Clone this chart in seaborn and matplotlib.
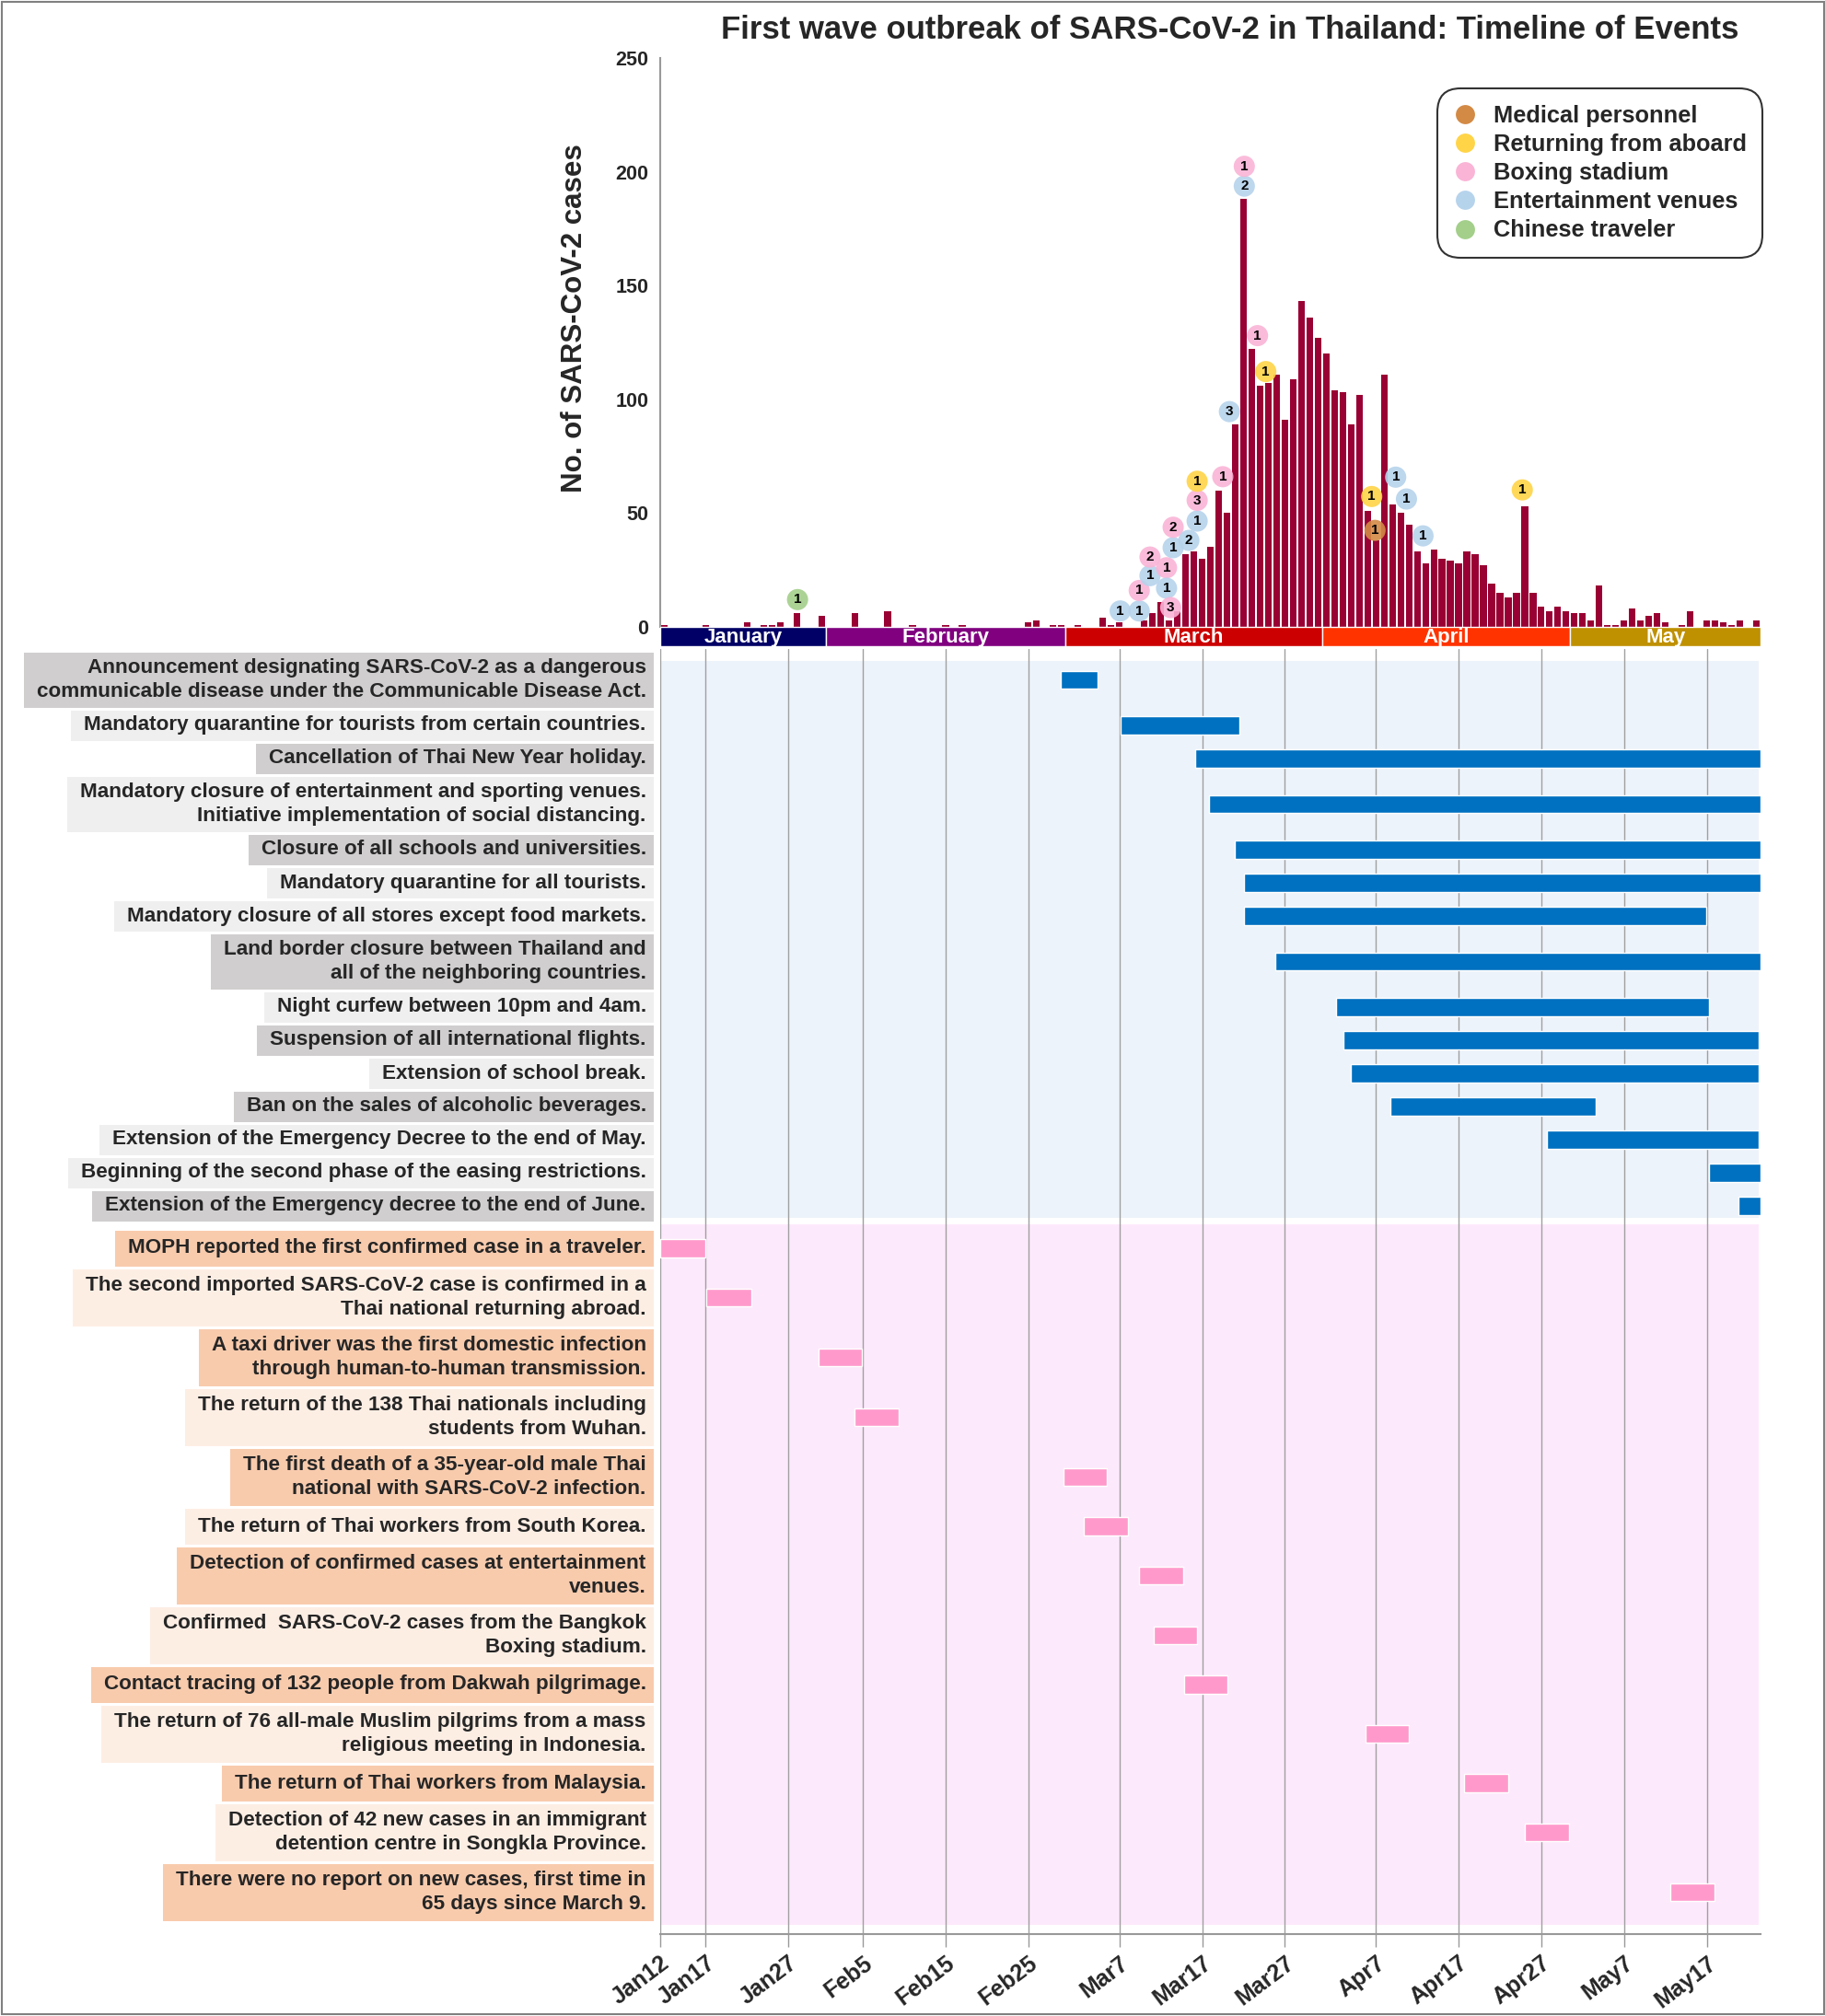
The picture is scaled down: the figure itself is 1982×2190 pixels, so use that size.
import numpy as np
import pandas as pd
import matplotlib
matplotlib.use('Agg')
import matplotlib.pyplot as plt
import matplotlib.transforms as mtransforms
from matplotlib.patches import Rectangle
from matplotlib.lines import Line2D
import seaborn as sns

sns.set_theme(style='white')
plt.rcParams['font.family'] = ['Liberation Sans', 'DejaVu Sans']
plt.rcParams['font.weight'] = 'bold'

# daily new cases, Jan 12 - May 23 2020
cases_jan = [1, 0, 0, 0, 0, 1, 0, 0, 0, 0, 2, 0, 1, 1, 2, 0, 6, 0, 0, 5]
cases_feb = [0, 0, 0, 6, 0, 0, 0, 7, 0, 0, 1, 0, 0, 0, 1, 0, 1, 0, 0, 0,
             0, 0, 0, 0, 2, 3, 0, 1, 1]
cases_mar = [0, 1, 0, 0, 4, 1, 2, 0, 0, 3, 6, 11, 3, 7, 32, 33, 30, 35, 60, 50,
             89, 188, 122, 106, 107, 111, 91, 109, 143, 136, 127]
cases_apr = [120, 104, 103, 89, 102, 51, 38, 111, 54, 50, 45, 33, 28, 34, 30,
             29, 28, 33, 32, 27, 19, 15, 13, 15, 53, 15, 9, 7, 9, 7]
cases_may = [6, 6, 3, 18, 1, 1, 3, 8, 3, 5, 6, 2, 0, 1, 7, 0, 3, 3, 2, 1, 3, 0, 3]

month_names = ['January', 'February', 'March', 'April', 'May']
month_colors = ['#000066', '#800080', '#cc0000', '#ff3300', '#bf9000']
month_cases = [cases_jan, cases_feb, cases_mar, cases_apr, cases_may]

tick_dates = ['2020-01-12', '2020-01-17', '2020-01-27', '2020-02-05', '2020-02-15',
              '2020-02-25', '2020-03-07', '2020-03-17', '2020-03-27', '2020-04-07',
              '2020-04-17', '2020-04-27', '2020-05-07', '2020-05-17']

# cluster circles (day from Jan 12, height in cases, cluster, count)
cluster_names = ['Medical personnel', 'Returning from aboard', 'Boxing stadium',
                 'Entertainment venues', 'Chinese traveler']
cluster_colors = ['#d38a45', '#ffd447', '#fab4d6', '#b6d3ec', '#a3cf8a']
ann_day = [16.6, 55.6, 57.9, 57.9, 59.2, 59.2, 61.2, 61.2, 61.7, 62.0, 62.0,
           63.9, 64.9, 64.9, 64.9, 68.0, 68.8, 70.6, 70.6, 72.2, 73.2,
           86.0, 86.4, 88.9, 90.2, 92.2, 104.2]
ann_height = [12, 7, 7, 16, 22.5, 30.7, 26, 17, 8.5, 34.8, 43.8,
              38, 46.5, 55.6, 64, 66, 94.6, 193.7, 202.4, 128, 112.2,
              57.3, 42.4, 65.8, 56.2, 40, 60.2]
ann_cluster = [4, 3, 3, 2, 3, 2, 2, 3, 2, 3, 2,
               3, 3, 2, 1, 2, 3, 3, 2, 2, 1,
               1, 0, 3, 3, 3, 1]
ann_count = [1, 1, 1, 1, 1, 2, 1, 1, 3, 1, 2,
             2, 1, 3, 1, 1, 3, 2, 1, 1, 1,
             1, 1, 1, 1, 1, 1]

# control measures (blue bars), day offsets from Jan 12
measure_labels = [
    'Announcement designating SARS-CoV-2 as a dangerous\ncommunicable disease under the Communicable Disease Act.',
    'Mandatory quarantine for tourists from certain countries.',
    'Cancellation of Thai New Year holiday.',
    'Mandatory closure of entertainment and sporting venues.\nInitiative implementation of social distancing.',
    'Closure of all schools and universities.',
    'Mandatory quarantine for all tourists.',
    'Mandatory closure of all stores except food markets.',
    'Land border closure between Thailand and\nall of the neighboring countries.',
    'Night curfew between 10pm and 4am.',
    'Suspension of all international flights.',
    'Extension of school break.',
    'Ban on the sales of alcoholic beverages.',
    'Extension of the Emergency Decree to the end of May.',
    'Beginning of the second phase of the easing restrictions.',
    'Extension of the Emergency decree to the end of June.',
]
measure_start = [48.4, 55.7, 64.7, 66.3, 69.4, 70.6, 70.6, 74.3, 81.7, 82.6,
                 83.5, 88.3, 107.2, 126.8, 130.3]
measure_end = [52.9, 70.0, 133, 133, 133, 133, 126.4, 133, 126.8, 132.8,
               132.8, 113.1, 132.8, 133, 133]
measure_dark = [1, 0, 1, 0, 1, 0, 0, 1, 0, 1, 0, 1, 0, 0, 1]

# outbreak events (pink bars)
event_labels = [
    'MOPH reported the first confirmed case in a traveler.',
    'The second imported SARS-CoV-2 case is confirmed in a\nThai national returning abroad.',
    'A taxi driver was the first domestic infection\nthrough human-to-human transmission.',
    'The return of the 138 Thai nationals including\nstudents from Wuhan.',
    'The first death of a 35-year-old male Thai\nnational with SARS-CoV-2 infection.',
    'The return of Thai workers from South Korea.',
    'Detection of confirmed cases at entertainment\nvenues.',
    'Confirmed  SARS-CoV-2 cases from the Bangkok\nBoxing stadium.',
    'Contact tracing of 132 people from Dakwah pilgrimage.',
    'The return of 76 all-male Muslim pilgrims from a mass\nreligious meeting in Indonesia.',
    'The return of Thai workers from Malaysia.',
    'Detection of 42 new cases in an immigrant\ndetention centre in Songkla Province.',
    'There were no report on new cases, first time in\n65 days since March 9.',
]
event_start = [0.0, 5.6, 19.1, 23.5, 48.7, 51.2, 57.9, 59.6, 63.3, 85.2, 97.2, 104.5, 122.1]
event_end = [5.4, 11.0, 24.4, 28.8, 54.0, 56.5, 63.2, 64.9, 68.6, 90.5, 102.5, 109.8, 127.4]

cases = sum(month_cases, [])
n = len(cases)
dates = pd.date_range('2020-01-12', periods=n)
month_days = [len(m) for m in month_cases]
month_start = np.cumsum([0] + month_days[:-1])

W, H = 1983, 2190
fig = plt.figure(figsize=(W / 100, H / 100), dpi=100)


def add_box(x0, y0, x1, y1):
    return fig.add_axes([x0 / W, 1 - y1 / H, (x1 - x0) / W, (y1 - y0) / H])


# ---------------- top: epidemic curve ----------------
ax = add_box(717, 63, 1912, 702)
x = np.arange(n) + 0.5
sns.barplot(x=x, y=cases, native_scale=True, color='#990033', saturation=1,
            width=0.8, errorbar=None, linewidth=0, ax=ax, zorder=2)
ax.set_xlim(0, n)
ax.set_ylim(-8.5, 250)

ax.bar(month_start, [8.5] * len(month_days), width=month_days, bottom=-8.5,
       align='edge', color=month_colors, edgecolor='white', linewidth=1, zorder=3)
for s, d, name in zip(month_start, month_days, month_names):
    ax.text(s + d / 2, -4.6, name, ha='center', va='center', color='white',
            fontsize=16, weight='bold', zorder=4)

palette = dict(zip(cluster_names, cluster_colors))
sns.scatterplot(x=ann_day, y=ann_height, hue=[cluster_names[i] for i in ann_cluster],
                palette=palette, s=275, alpha=0.9, linewidth=0, legend=False,
                ax=ax, zorder=5)
for xd, yd, c in zip(ann_day, ann_height, ann_count):
    ax.text(xd, yd, str(c), ha='center', va='center', fontsize=11,
            weight='bold', color='black', zorder=6)

for side in ['top', 'right', 'bottom']:
    ax.spines[side].set_visible(False)
ax.spines['left'].set_color('#999999')
ax.spines['left'].set_linewidth(1.5)
ax.spines['left'].set_bounds(0, 250)
ax.set_xticks([])
ax.set_yticks(range(0, 251, 50))
ax.set_yticklabels([str(v) for v in range(0, 251, 50)], fontsize=15.5, weight='bold')
ax.tick_params(axis='y', length=0, pad=9)
ax.set_xlabel('')
ax.set_ylabel('No. of SARS-CoV-2 cases', fontsize=22.5, weight='heavy')
ax.yaxis.set_label_coords(-0.065, 0.557)

handles = [Line2D([0], [0], marker='o', ls='', markersize=15,
                  markerfacecolor=c, markeredgecolor='none') for c in cluster_colors]
leg = ax.legend(handles, cluster_names, loc='upper right', bbox_to_anchor=(1.002, 0.948),
                prop={'size': 18.3, 'weight': 'bold'}, frameon=True, borderaxespad=0,
                handlelength=1.0, handletextpad=0.7, labelspacing=0.28, borderpad=0.7)
frame = leg.get_frame()
frame.set_edgecolor('black')
frame.set_linewidth(1.5)
frame.set_boxstyle('round', pad=0, rounding_size=1.0)

fig.text(1336 / W, 1 - 32 / H,
         'First wave outbreak of SARS-CoV-2 in Thailand: Timeline of Events',
         ha='center', va='center', fontsize=25, weight='heavy')

# ---------------- bottom: timeline ----------------
axl = add_box(717, 705, 1912, 2101)
axl.set_xlim(0, n)
axl.set_ylim(2101, 705)


def rows(labels, top, h1, h2):
    out = []
    y = top
    for lab in labels:
        h = h1 if lab.count('\n') == 0 else h2
        out.append((y, h))
        y += h
    return out


measure_rows = rows(measure_labels, 707, 36, 63)
event_rows = rows(event_labels, 1335, 42, 65)

axl.axhspan(718, 1323, xmin=0, xmax=0.9985, color='#edf3fa', zorder=0.2, lw=0)
axl.axhspan(1330, 2091, xmin=0, xmax=0.9985, color='#fde9fc', zorder=0.2, lw=0)

m_centers = [t + h / 2 for t, h in measure_rows]
e_centers = [t + h / 2 for t, h in event_rows]
axl.barh(m_centers, np.array(measure_end) - np.array(measure_start), left=measure_start,
         height=19.5, color='#0070c0', zorder=3)
axl.barh(e_centers, np.array(event_end) - np.array(event_start), left=event_start,
         height=19.5, color='#ff99cc', zorder=3)

tick_dt = pd.to_datetime(tick_dates)
tick_pos = np.array((tick_dt - dates[0]).days, dtype=float) + 0.5
tick_pos[0] = 0.0
axl.set_xticks(tick_pos)
axl.set_xticklabels([f'{d:%b}{d.day}' for d in tick_dt])
for lab in axl.get_xticklabels():
    lab.set_rotation(37)
    lab.set_ha('right')
    lab.set_va('top')
    lab.set_rotation_mode('anchor')
    lab.set_fontsize(18)
    lab.set_fontweight('bold')
axl.set_yticks([])
axl.grid(axis='x', color='#a0a0a0', linewidth=1)
axl.set_axisbelow(True)
axl.tick_params(axis='x', length=10, width=1, color='#999999', pad=4, bottom=True)
for side in ['top', 'right', 'left']:
    axl.spines[side].set_visible(False)
axl.spines['bottom'].set_color('#999999')
axl.spines['bottom'].set_linewidth(1.5)

texts = []
all_rows = list(zip(measure_labels, measure_rows)) + list(zip(event_labels, event_rows))
shades = ['#d0cece' if d else '#efefef' for d in measure_dark] + \
         ['#f8cbad' if i % 2 == 0 else '#fdeee4' for i in range(len(event_labels))]
for lab, (top, h) in all_rows:
    t = axl.annotate(lab, xy=(0, top + h / 2), xycoords=('axes fraction', 'data'),
                     xytext=(-11, 0), textcoords='offset points', ha='right', va='center',
                     multialignment='right', fontsize=16.2, weight='bold', linespacing=1.3,
                     annotation_clip=False, zorder=4)
    texts.append(t)

fig.canvas.draw()
renderer = fig.canvas.get_renderer()
inv = axl.transAxes.inverted()
blend = mtransforms.blended_transform_factory(axl.transAxes, axl.transData)
ax_left_px = axl.transAxes.transform((0, 0))[0]
for t, (lab, (top, h)), col in zip(texts, all_rows, shades):
    bb = t.get_window_extent(renderer)
    x0 = inv.transform((bb.x0 - 14, 0))[0]
    x1 = inv.transform((ax_left_px - 7, 0))[0]
    axl.add_patch(Rectangle((x0, top + 1.5), x1 - x0, h - 3, transform=blend,
                            facecolor=col, edgecolor='none', clip_on=False, zorder=1))

fig.add_artist(Rectangle((2 / W, 2 / H), 1 - 4 / W, 1 - 4 / H, transform=fig.transFigure,
                         fill=False, edgecolor='#808080', linewidth=1.5))

fig.savefig('out.png', dpi=100)
